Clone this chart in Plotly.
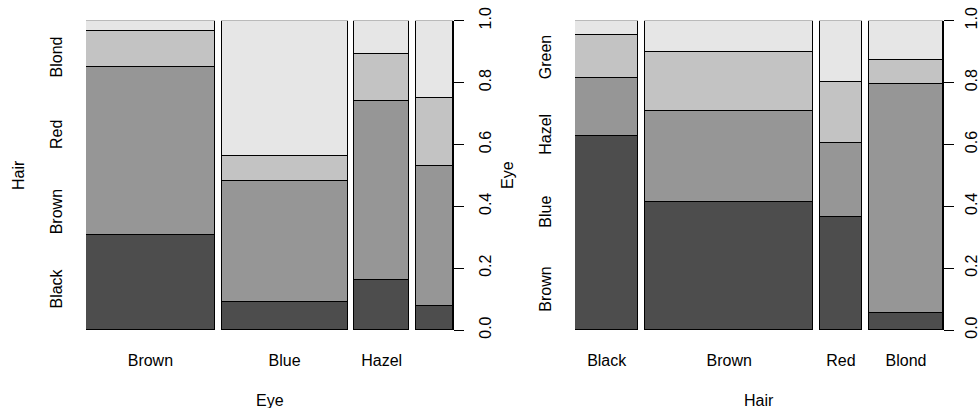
import plotly.graph_objects as go

# Data (HairEyeColor, summed over sex)
hair_levels = ["Black", "Brown", "Red", "Blond"]
eye_levels = ["Brown", "Blue", "Hazel", "Green"]
# counts[hair][eye]
cnt_black = [68, 20, 15, 5]
cnt_brown = [119, 84, 54, 29]
cnt_red = [26, 17, 14, 14]
cnt_blond = [7, 94, 10, 16]
counts = [cnt_black, cnt_brown, cnt_red, cnt_blond]

left_xlabels = ["Brown", "Blue", "Hazel"]  # "Green" omitted (overlaps) as in reference
right_xlabels = ["Black", "Brown", "Red", "Blond"]
y_ticks = [0.0, 0.2, 0.4, 0.6, 0.8, 1.0]
cat_pos = [0.125, 0.375, 0.625, 0.875]
grays = ["#4D4D4D", "#969696", "#C3C3C3", "#E6E6E6"]
OFF = 0.02

FONT = "Liberation Sans, Arial, sans-serif"
FS = 16

W, H = 978, 408
L_x0, L_x1 = 86, 453.3
R_x0, R_x1 = 575, 943.3
Y_top, Y_bot = 20.7, 330


def spine(table):
    """table[row=x level][col=y level] -> centers, widths, proportions per y level"""
    totals = [sum(r) for r in table]
    n = sum(totals)
    widths = [t / n for t in totals]
    centers = []
    pos = 0.0
    for w in widths:
        centers.append(pos + w / 2)
        pos += w + OFF
    props = [[table[i][j] / totals[i] for i in range(len(table))] for j in range(len(table[0]))]
    return centers, widths, props


# Left: x = Eye, y = Hair
tab_left = [[counts[h][e] for h in range(4)] for e in range(4)]
cL, wL, pL = spine(tab_left)
# Right: x = Hair, y = Eye
tab_right = [[counts[h][e] for e in range(4)] for h in range(4)]
cR, wR, pR = spine(tab_right)

fig = go.Figure()
for j in range(4):
    fig.add_trace(go.Bar(x=cL, y=pL[j], width=wL, marker=dict(color=grays[j], line=dict(color="black", width=1)),
                         xaxis="x", yaxis="y", showlegend=False, name=hair_levels[j]))
for j in range(4):
    fig.add_trace(go.Bar(x=cR, y=pR[j], width=wR, marker=dict(color=grays[j], line=dict(color="black", width=1)),
                         xaxis="x2", yaxis="y2", showlegend=False, name=eye_levels[j]))
# invisible anchors so the category label axes get drawn
fig.add_trace(go.Scatter(x=[0] * 4, y=cat_pos, mode="markers", marker=dict(opacity=0), hoverinfo="skip",
                         xaxis="x", yaxis="y3", showlegend=False))
fig.add_trace(go.Scatter(x=[0] * 4, y=cat_pos, mode="markers", marker=dict(opacity=0), hoverinfo="skip",
                         xaxis="x2", yaxis="y4", showlegend=False))

xmax = 1 + OFF * 3
ydom = [1 - Y_bot / H, 1 - Y_top / H]
tickfont = dict(family=FONT, size=FS, color="black")

common_x = dict(range=[0, xmax], showgrid=False, zeroline=False, showline=False, ticks="",
                tickfont=tickfont, ticklabelstandoff=19, fixedrange=True, automargin=False)
common_y = dict(range=[0, 1], showgrid=False, zeroline=False, showline=True, linecolor="black", linewidth=1,
                side="right", ticks="outside", ticklen=10, tickwidth=1, tickcolor="black",
                tickvals=y_ticks, ticktext=[f"{v:.1f}" for v in y_ticks], tickangle=-90,
                tickfont=tickfont, automargin=False, fixedrange=True)
cat_y = dict(range=[0, 1], showgrid=False, zeroline=False, showline=False, side="left", ticks="",
             tickvals=cat_pos, tickangle=-90, tickfont=tickfont, ticklabelstandoff=20,
             automargin=False, fixedrange=True)

fig.update_layout(
    template="none",
    width=W, height=H, margin=dict(l=0, r=0, t=0, b=0, autoexpand=False),
    paper_bgcolor="white", plot_bgcolor="rgba(0,0,0,0)", barmode="stack", bargap=0,
    font=dict(family=FONT, size=FS, color="black"),
    xaxis=dict(domain=[L_x0 / W, L_x1 / W], anchor="y", tickvals=cL[:3], ticktext=left_xlabels, **common_x),
    yaxis=dict(domain=ydom, anchor="x", ticklabelstandoff=7, **common_y),
    yaxis3=dict(overlaying="y", anchor="x", ticktext=hair_levels, **cat_y),
    xaxis2=dict(domain=[R_x0 / W, R_x1 / W], anchor="y2", tickvals=cR, ticktext=right_xlabels, **common_x),
    yaxis2=dict(domain=ydom, anchor="x2", ticklabelstandoff=3, **common_y),
    yaxis4=dict(overlaying="y2", anchor="x2", ticktext=eye_levels, **cat_y),
    annotations=[
        dict(text="Eye", x=(L_x0 + L_x1) / 2 / W, y=1 - 400 / H, xref="paper", yref="paper",
             showarrow=False, xanchor="center", yanchor="middle", font=tickfont),
        dict(text="Hair", x=(R_x0 + R_x1) / 2 / W, y=1 - 400 / H, xref="paper", yref="paper",
             showarrow=False, xanchor="center", yanchor="middle", font=tickfont),
        dict(text="Hair", x=18 / W, y=1 - 175 / H, xref="paper", yref="paper", textangle=-90,
             showarrow=False, xanchor="center", yanchor="middle", font=tickfont),
        dict(text="Eye", x=507 / W, y=1 - 175 / H, xref="paper", yref="paper", textangle=-90,
             showarrow=False, xanchor="center", yanchor="middle", font=tickfont),
    ],
)

fig.write_html("out.html")
